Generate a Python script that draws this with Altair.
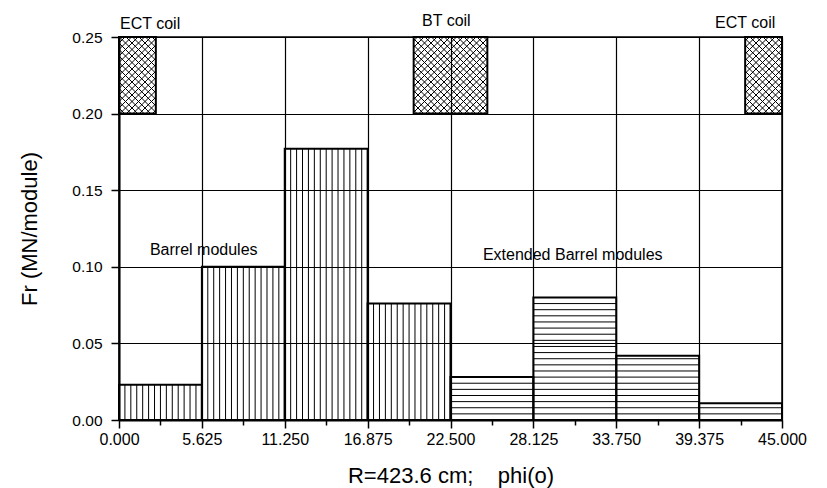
import altair as alt
import pandas as pd
import numpy as np

# ---- data ----
barrel_x0 = [0.0, 5.625, 11.25, 16.875]
barrel_x1 = [5.625, 11.25, 16.875, 22.5]
barrel_fr = [0.023, 0.100, 0.177, 0.076]

ext_x0 = [22.5, 28.125, 33.75, 39.375]
ext_x1 = [28.125, 33.75, 39.375, 45.0]
ext_fr = [0.028, 0.080, 0.042, 0.011]

coil_x0 = [0.0, 20.0, 42.5]
coil_x1 = [2.5, 25.0, 45.0]
coil_y0 = [0.20, 0.20, 0.20]
coil_y1 = [0.25, 0.25, 0.25]

x_ticks = [0, 2.8125, 5.625, 8.4375, 11.25, 14.0625, 16.875, 19.6875, 22.5,
           25.3125, 28.125, 30.9375, 33.75, 36.5625, 39.375, 42.1875, 45]
y_ticks = [0, 0.025, 0.05, 0.075, 0.10, 0.125, 0.15, 0.175, 0.20, 0.225, 0.25]

label_text = ["ECT coil", "BT coil", "ECT coil", "Barrel modules", "Extended Barrel modules"]
label_x = [0.07, 20.57, 40.46, 2.1, 24.7]
label_y = [0.2552, 0.2572, 0.2558, 0.1076, 0.1043]

W, H = 663, 383
XMAX, YMAX = 45.0, 0.25
SX, SY = W / XMAX, H / YMAX

# ---- rectangles (outlines) ----
rects = pd.DataFrame({
    "x0": barrel_x0 + ext_x0 + coil_x0,
    "x1": barrel_x1 + ext_x1 + coil_x1,
    "y0": [0.0] * 8 + coil_y0,
    "y1": barrel_fr + ext_fr + coil_y1,
})

# ---- hatching derived from the rectangles ----
segs = []
for a, b, v in zip(barrel_x0, barrel_x1, barrel_fr):
    for k in range(1, 14):
        xx = a + (b - a) * k / 14
        segs.append((xx, xx, 0.0, v))
hstep = 0.004
for a, b, v in zip(ext_x0, ext_x1, ext_fr):
    for yy in np.arange(hstep, v - 0.0015, hstep):
        segs.append((a, b, yy, yy))
step = 6.5
for a, b, c0, c1 in zip(coil_x0, coil_x1, coil_y0, coil_y1):
    u0, u1, v0, v1 = a * SX, b * SX, c0 * SY, c1 * SY
    for c in np.arange(np.ceil((v0 - u1) / step) * step, v1 - u0, step):
        ua, ub = max(u0, v0 - c), min(u1, v1 - c)
        if ub > ua:
            segs.append((ua / SX, ub / SX, (ua + c) / SY, (ub + c) / SY))
    for c in np.arange(np.ceil((u0 + v0) / step) * step, u1 + v1, step):
        ua, ub = max(u0, c - v1), min(u1, c - v0)
        if ub > ua:
            segs.append((ua / SX, ub / SX, (c - ua) / SY, (c - ub) / SY))
hatch = pd.DataFrame(segs, columns=["hx", "hx2", "hy", "hy2"])

labels = pd.DataFrame({"t": label_text, "lx": label_x, "ly": label_y})

FONT = "Liberation Sans"
xmaj = "abs(datum.value/5.625 - round(datum.value/5.625)) < 1e-6"
ymaj = "abs(datum.value*20 - round(datum.value*20)) < 1e-6"

xscale = alt.Scale(domain=[0, XMAX], nice=False, zero=False)
yscale = alt.Scale(domain=[0, YMAX], nice=False, zero=False)

xaxis = alt.Axis(
    values=x_ticks,
    labelExpr=f"({xmaj}) ? format(datum.value, '.3f') : ''",
    tickSize={"condition": {"test": xmaj, "value": 8}, "value": 5},
    gridOpacity={"condition": {"test": xmaj, "value": 1}, "value": 0},
    grid=True, gridColor="black", gridWidth=1.2,
    domainColor="black", domainWidth=2, tickColor="black", tickWidth=1.5,
    labelFont=FONT, labelFontSize=16, labelColor="black", labelPadding=3,
    labelFlush=False, labelOverlap=False,
    title="R=423.6 cm;\u00a0\u00a0\u00a0\u00a0phi(o)",
    titleFont=FONT, titleFontSize=22, titleFontWeight="normal", titleColor="black",
    titleX=W / 2, titleY=62, titleAlign="center", titleBaseline="alphabetic",
)
yaxis = alt.Axis(
    values=y_ticks,
    labelExpr=f"({ymaj}) ? format(datum.value, '.2f') : ''",
    tickSize={"condition": {"test": ymaj, "value": 8}, "value": 5},
    gridOpacity={"condition": {"test": ymaj, "value": 1}, "value": 0},
    grid=True, gridColor="black", gridWidth=1.2,
    domainColor="black", domainWidth=2, tickColor="black", tickWidth=1.5,
    labelFont=FONT, labelFontSize=15.5, labelColor="black", labelPadding=9,
    labelOverlap=False,
    title="Fr (MN/module)",
    titleFont=FONT, titleFontSize=22, titleFontWeight="normal", titleColor="black",
    titleX=-90, titleY=H / 2, titleAlign="center", titleBaseline="middle", titleAngle=270,
)

bars = alt.Chart(rects).mark_rect(fillOpacity=0, stroke="black", strokeWidth=2).encode(
    x=alt.X("x0:Q", scale=xscale, axis=xaxis),
    x2="x1:Q",
    y=alt.Y("y0:Q", scale=yscale, axis=yaxis),
    y2="y1:Q",
)

hatching = alt.Chart(hatch).mark_rule(color="black", strokeWidth=1).encode(
    x=alt.X("hx:Q", scale=xscale),
    x2="hx2:Q",
    y=alt.Y("hy:Q", scale=yscale),
    y2="hy2:Q",
)

texts = alt.Chart(labels).mark_text(
    font=FONT, fontSize=16, align="left", baseline="alphabetic", color="black"
).encode(
    x=alt.X("lx:Q", scale=xscale),
    y=alt.Y("ly:Q", scale=yscale),
    text="t:N",
)

chart = alt.layer(bars, hatching, texts).properties(
    width=W, height=H,
    padding={"left": 119, "top": 37, "right": 827 - 119 - W, "bottom": 488 - 37 - H},
    autosize="none",
    background="white",
).configure_view(stroke="black", strokeWidth=1.5)

chart.save("out.html", embed_options={"renderer": "svg", "actions": False})
